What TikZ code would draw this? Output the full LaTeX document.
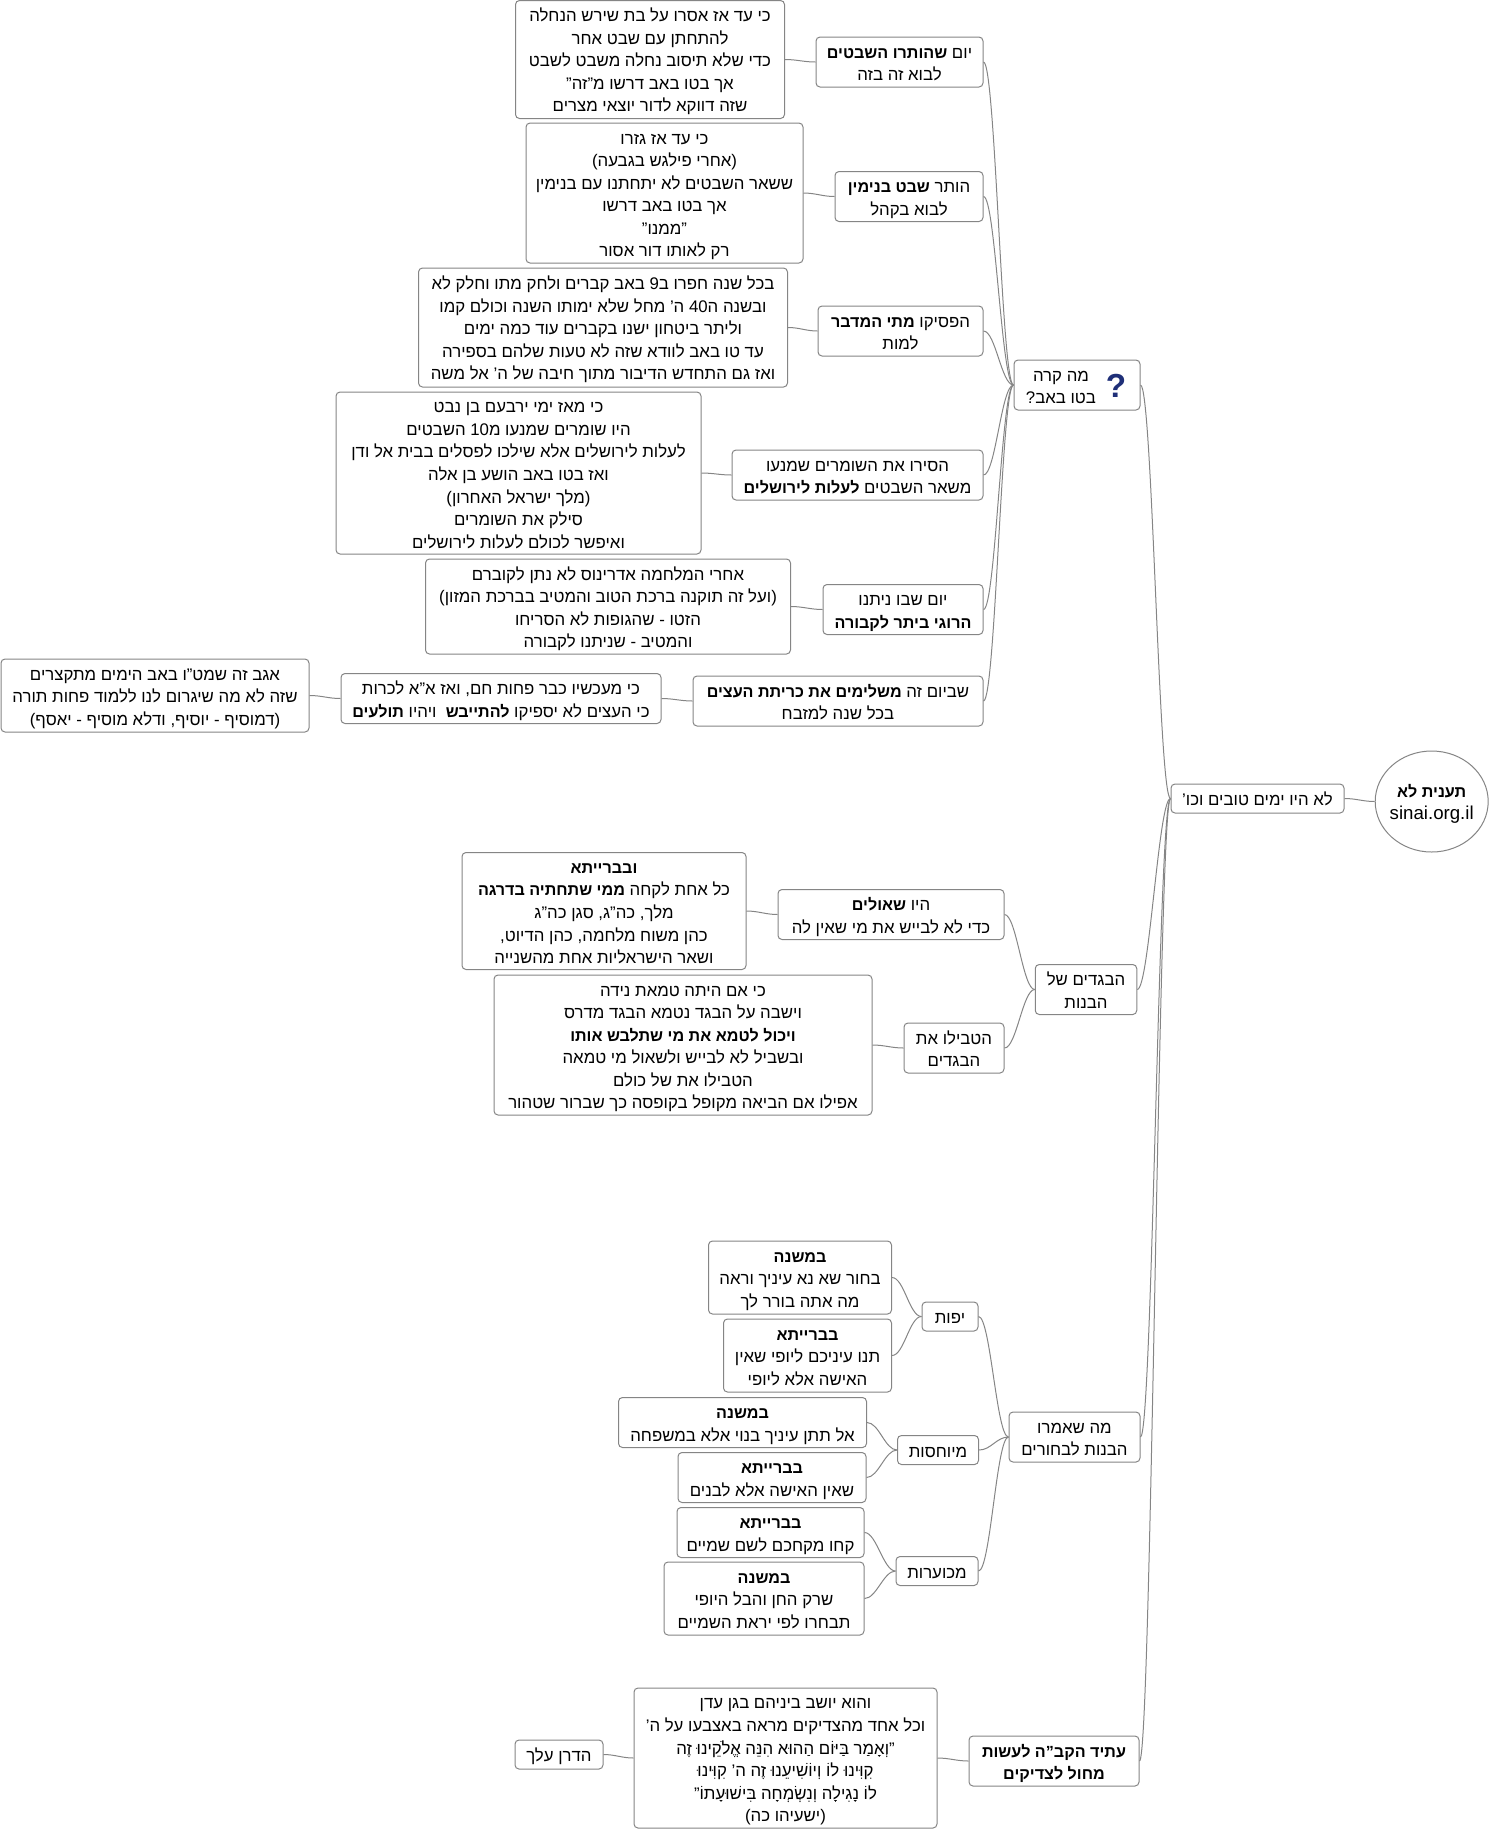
\documentclass[tikz,border=0pt]{standalone}
\usepackage{fontspec}
\setmainfont[Script=Hebrew,Ligatures=ResetAll,BoldFeatures={Scale=0.96}]{Liberation Sans}
\TeXXeTstate=1
\usetikzlibrary{shapes.geometric}
\definecolor{linegray}{HTML}{858585}
\definecolor{iconblue}{HTML}{1F2F78}
\newcommand{\linestrut}{\rule[-2.3pt]{0pt}{15.8pt}}
\newcommand{\rl}[1]{\linestrut\beginR #1\endR}
\tikzset{
  topic/.style 2 args={rectangle, draw=linegray, rounded corners=3pt, fill=white, align=center,
    inner sep=0pt, minimum width=#1*0.75pt, minimum height=#2*0.75pt},
  link/.style={draw=linegray, out=180, in=0, max distance=9pt}
}
\begin{document}
\begin{tikzpicture}[x=0.75pt, y=-0.75pt, line width=0.75pt, font=\fontsize{12.6}{16.9}\selectfont]
  \useasboundingbox (0,0) rectangle (1489,1829);
  \node[ellipse, draw=linegray, fill=white, align=center, inner sep=-10pt, minimum width=84.75pt, minimum height=75.75pt] (root) at (1431.7,801.5) {\rl{\textbf{תענית לא}}\\\linestrut{\fontsize{14}{16.9}\selectfont sinai.org.il}};
  \node[topic={173}{29}] (main) at (1257.5,798.5) {\rl{לא היו ימים טובים וכו'}};
  \node[topic={126}{50}] (what) at (1077,385) {};
  \node[align=center, inner sep=0pt] (whattext) at (1061,385) {\rl{מה קרה}\\\rl{בטו באב?}};
  \node[inner sep=0pt, text=iconblue, font=\fontsize{26}{26}\selectfont\bfseries] (whaticon) at (1116,386) {?};
  \node[topic={167}{50}] (alabel) at (899.5,62) {\rl{יום \textbf{שהותרו השבטים}}\\\rl{לבוא זה בזה}};
  \node[topic={269}{118}] (atext) at (650,59.5) {\rl{כי עד אז אסרו על בת שירש הנחלה}\\\rl{להתחתן עם שבט אחר}\\\rl{כדי שלא תיסוב נחלה משבט לשבט}\\\rl{אך בטו באב דרשו מ"זה"}\\\rl{שזה דווקא לדור יוצאי מצרים}};
  \node[topic={148}{50}] (blabel) at (909,196.5) {\rl{הותר \textbf{שבט בנימין}}\\\rl{לבוא בקהל}};
  \node[topic={277}{140}] (btext) at (664.5,193) {\rl{כי עד אז גזרו}\\\rl{(אחרי פילגש בגבעה)}\\\rl{ששאר השבטים לא יתחתנו עם בנימין}\\\rl{אך בטו באב דרשו}\\\rl{"ממנו"}\\\rl{רק לאותו דור אסור}};
  \node[topic={165}{50}] (clabel) at (900.5,331) {\rl{הפסיקו \textbf{מתי המדבר}}\\\rl{למות}};
  \node[topic={369}{119}] (ctext) at (603,327.5) {\rl{בכל שנה חפרו ב9 באב קברים ולחק מתו וחלק לא}\\\rl{ובשנה ה\beginL40\endL{} ה' מחל שלא ימותו השנה וכולם קמו}\\\rl{וליתר ביטחון ישנו בקברים עוד כמה ימים}\\\rl{עד טו באב לוודא שזה לא טעות שלהם בספירה}\\\rl{ואז גם התחדש הדיבור מתוך חיבה של ה' אל משה}};
  \node[topic={251}{50}] (dlabel) at (857.5,475) {\rl{הסירו את השומרים שמנעו}\\\rl{משאר השבטים \textbf{לעלות לירושלים}}};
  \node[topic={365}{162}] (dtext) at (518.5,473) {\rl{כי מאז ימי ירבעם בן נבט}\\\rl{היו שומרים שמנעו מ\beginL10\endL{} השבטים}\\\rl{לעלות לירושלים אלא שילכו לפסלים בבית אל ודן}\\\rl{ואז בטו באב הושע בן אלה}\\\rl{(מלך ישראל האחרון)}\\\rl{סילק את השומרים}\\\rl{ואיפשר לכולם לעלות לירושלים}};
  \node[topic={160}{50}] (elabel) at (903,609.5) {\rl{יום שבו ניתנו}\\\rl{\textbf{הרוגי ביתר לקבורה}}};
  \node[topic={365}{95}] (etext) at (608,606.5) {\rl{אחרי המלחמה אדרינוס לא נתן לקוברם}\\\rl{(ועל זה תוקנה ברכת הטוב והמטיב בברכת המזון)}\\\rl{הזטו - שהגופות לא הסריחו}\\\rl{והמטיב - שניתנו לקבורה}};
  \node[topic={290}{50}] (flabel) at (838,701) {\rl{שביום זה \textbf{משלימים את כריתת העצים}}\\\rl{בכל שנה למזבח}};
  \node[topic={320}{50}] (ftext) at (501,698.5) {\rl{כי מעכשיו כבר פחות חם, ואז א"א לכרות}\\\rl{כי העצים לא יספיקו \textbf{להתייבש}\ \ ויהיו \textbf{תולעים}}};
  \node[topic={308}{73}] (fnote) at (155,695.5) {\rl{אגב זה שמט"ו באב הימים מתקצרים}\\\rl{שזה לא מה שיגרום לנו ללמוד פחות תורה}\\\rl{(דמוסיף - יוסיף, ודלא מוסיף - יאסף)}};
  \node[topic={101.5}{50}] (clothes) at (1086,989.5) {\rl{הבגדים של}\\\rl{הבנות}};
  \node[topic={226}{50}] (glabel) at (891,914.5) {\rl{היו \textbf{שאולים}}\\\rl{כדי לא לבייש את מי שאין לה}};
  \node[topic={284}{117}] (gtext) at (604,911) {\rl{\textbf{ובברייתא}}\\\rl{כל אחת לקחה \textbf{ממי שתחתיה בדרגה}}\\\rl{מלך, כה"ג, סגן כה"ג}\\\rl{כהן משוח מלחמה, כהן הדיוט,}\\\rl{ושאר הישראליות אחת מהשנייה}};
  \node[topic={100}{50}] (hlabel) at (954,1048) {\rl{הטבילו את}\\\rl{הבגדים}};
  \node[topic={378}{140}] (htext) at (683,1045) {\rl{כי אם היתה טמאת נידה}\\\rl{וישבה על הבגד נטמא הבגד מדרס}\\\rl{\textbf{ויכול לטמא את מי שתלבש אותו}}\\\rl{ובשביל לא לבייש ולשאול מי טמאה}\\\rl{הטבילו את של כולם}\\\rl{אפילו אם הביאה מקופל בקופסה כך שברור שטהור}};
  \node[topic={131}{50}] (said) at (1074.5,1437) {\rl{מה שאמרו}\\\rl{הבנות לבחורים}};
  \node[topic={56}{29}] (pretty) at (950,1316.5) {\rl{יפות}};
  \node[topic={183}{73}] (prettya) at (800,1277.5) {\rl{\textbf{במשנה}}\\\rl{בחור שא נא עיניך וראה}\\\rl{מה אתה בורר לך}};
  \node[topic={168}{73}] (prettyb) at (807.5,1355.5) {\rl{\textbf{בברייתא}}\\\rl{תנו עיניכם ליופי שאין}\\\rl{האישה אלא ליופי}};
  \node[topic={81}{29}] (noble) at (938,1450) {\rl{מיוחסות}};
  \node[topic={248}{50}] (noblea) at (742.5,1422.5) {\rl{\textbf{במשנה}}\\\rl{אל תתן עיניך בנוי אלא במשפחה}};
  \node[topic={188}{50}] (nobleb) at (772,1477.5) {\rl{\textbf{בברייתא}}\\\rl{שאין האישה אלא לבנים}};
  \node[topic={82}{29}] (plain) at (937,1571) {\rl{מכוערות}};
  \node[topic={187}{50}] (plaina) at (770.5,1532.5) {\rl{\textbf{בברייתא}}\\\rl{קחו מקחכם לשם שמיים}};
  \node[topic={200}{73}] (plainb) at (764,1598.5) {\rl{\textbf{במשנה}}\\\rl{שרק החן והבל היופי}\\\rl{תבחרו לפי יראת השמיים}};
  \node[topic={170}{50}] (future) at (1054,1761) {\rl{\textbf{עתיד הקב"ה לעשות}}\\\rl{\textbf{מחול לצדיקים}}};
  \node[topic={303}{140}] (ftrtext) at (785.5,1758) {\rl{והוא יושב ביניהם בגן עדן}\\\rl{וכל אחד מהצדיקים מראה באצבעו על ה'}\\\rl{"וְאָמַר בַּיּוֹם הַהוּא הִנֵּה אֱלֹקֵינוּ זֶה}\\\rl{קִוִּינוּ לוֹ וְיוֹשִׁיעֵנוּ זֶה ה' קִוִּינוּ}\\\rl{לוֹ נָגִילָה וְנִשְׂמְחָה בִּישׁוּעָתוֹ"}\\\rl{(ישעיהו כה)}};
  \node[topic={88}{29}] (hadran) at (559,1754.5) {\rl{הדרן עלך}};
  \path[link] (root) edge (main);
  \path[link] (main) edge (what);
  \path[link] (main) edge (clothes);
  \path[link] (main) edge (said);
  \path[link] (main) edge (future);
  \path[link] (what) edge (alabel);
  \path[link] (what) edge (blabel);
  \path[link] (what) edge (clabel);
  \path[link] (what) edge (dlabel);
  \path[link] (what) edge (elabel);
  \path[link] (what) edge (flabel);
  \path[link] (alabel) edge (atext);
  \path[link] (blabel) edge (btext);
  \path[link] (clabel) edge (ctext);
  \path[link] (dlabel) edge (dtext);
  \path[link] (elabel) edge (etext);
  \path[link] (flabel) edge (ftext);
  \path[link] (ftext) edge (fnote);
  \path[link] (clothes) edge (glabel);
  \path[link] (clothes) edge (hlabel);
  \path[link] (glabel) edge (gtext);
  \path[link] (hlabel) edge (htext);
  \path[link] (said) edge (pretty);
  \path[link] (said) edge (noble);
  \path[link] (said) edge (plain);
  \path[link] (pretty) edge (prettya);
  \path[link] (pretty) edge (prettyb);
  \path[link] (noble) edge (noblea);
  \path[link] (noble) edge (nobleb);
  \path[link] (plain) edge (plaina);
  \path[link] (plain) edge (plainb);
  \path[link] (future) edge (ftrtext);
  \path[link] (ftrtext) edge (hadran);
\end{tikzpicture}
\end{document}
